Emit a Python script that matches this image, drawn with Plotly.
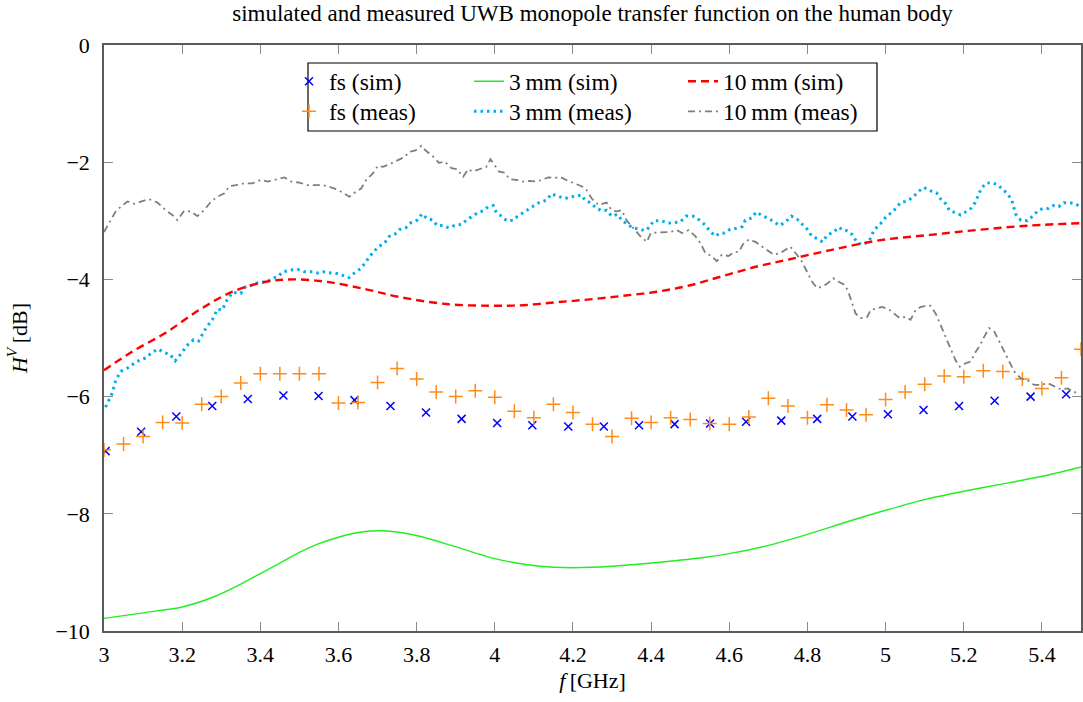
import plotly.graph_objects as go

# ---------------- data ----------------
fs_sim_f = [3.004, 3.095, 3.185, 3.277, 3.368, 3.459, 3.549, 3.641, 3.733, 3.824,
            3.915, 4.006, 4.096, 4.188, 4.279, 4.369, 4.460, 4.551, 4.643, 4.733,
            4.825, 4.915, 5.006, 5.097, 5.188, 5.279, 5.371, 5.462]
fs_sim_v = [-6.93, -6.60, -6.34, -6.16, -6.04, -5.98, -5.99, -6.06, -6.16, -6.27,
            -6.38, -6.45, -6.49, -6.51, -6.51, -6.49, -6.47, -6.46, -6.43, -6.41,
            -6.38, -6.34, -6.30, -6.23, -6.16, -6.07, -6.00, -5.96]

fs_meas_f = [3.00, 3.05, 3.10, 3.15, 3.20, 3.25, 3.30, 3.35, 3.40, 3.45,
             3.50, 3.55, 3.60, 3.65, 3.70, 3.75, 3.80, 3.85, 3.90, 3.95,
             4.00, 4.05, 4.10, 4.15, 4.20, 4.25, 4.30, 4.35, 4.40, 4.45,
             4.50, 4.55, 4.60, 4.65, 4.70, 4.75, 4.80, 4.85, 4.90, 4.95,
             5.00, 5.05, 5.10, 5.15, 5.20, 5.25, 5.30, 5.35, 5.40, 5.45, 5.50]
fs_meas_v = [-6.91, -6.81, -6.68, -6.44, -6.45, -6.13, -6.00, -5.77, -5.61, -5.61,
             -5.61, -5.61, -6.11, -6.10, -5.76, -5.52, -5.70, -5.92, -6.00, -5.90,
             -6.01, -6.25, -6.36, -6.13, -6.27, -6.47, -6.68, -6.37, -6.44, -6.36,
             -6.39, -6.46, -6.47, -6.35, -6.03, -6.16, -6.36, -6.14, -6.23, -6.31,
             -6.05, -5.92, -5.79, -5.65, -5.66, -5.56, -5.57, -5.70, -5.86, -5.68, -5.19]

mm3_sim_f = [3.0, 3.1, 3.2, 3.28, 3.35, 3.40, 3.45, 3.50, 3.55, 3.60, 3.65, 3.70,
             3.75, 3.80, 3.889, 4.0, 4.113, 4.2, 4.3, 4.4, 4.53, 4.60, 4.69, 4.80,
             4.90, 5.0, 5.107, 5.2, 5.3, 5.4, 5.5]
mm3_sim_v = [-9.785, -9.69, -9.59, -9.42, -9.20, -9.02, -8.84, -8.66, -8.51, -8.40,
             -8.32, -8.29, -8.31, -8.37, -8.54, -8.765, -8.895, -8.92, -8.895, -8.84,
             -8.75, -8.68, -8.555, -8.35, -8.14, -7.94, -7.745, -7.615, -7.49, -7.36,
             -7.20]

mm10_sim_f = [3.0, 3.073, 3.158, 3.244, 3.329, 3.415, 3.483, 3.568, 3.671, 3.756,
              3.876, 3.987, 4.073, 4.158, 4.244, 4.329, 4.415, 4.5, 4.585, 4.671,
              4.752, 4.859, 4.987, 5.115, 5.244, 5.372, 5.5]
mm10_sim_v = [-5.55, -5.23, -4.91, -4.52, -4.21, -4.04, -4.00, -4.04, -4.17, -4.30,
              -4.42, -4.45, -4.44, -4.39, -4.34, -4.28, -4.21, -4.10, -3.94, -3.78,
              -3.66, -3.50, -3.33, -3.24, -3.15, -3.08, -3.04]

mm3_meas_f = [3.004, 3.021, 3.03, 3.043, 3.064, 3.081, 3.107, 3.124, 3.139, 3.154,
              3.169, 3.182, 3.192, 3.214, 3.229, 3.242, 3.261, 3.277, 3.29, 3.303,
              3.312, 3.329, 3.35, 3.363, 3.38, 3.397, 3.415, 3.432, 3.446, 3.457,
              3.479, 3.496, 3.513, 3.534, 3.547, 3.56, 3.581, 3.596, 3.611, 3.627,
              3.641, 3.658, 3.669, 3.679, 3.688, 3.703, 3.718, 3.729, 3.744, 3.756,
              3.772, 3.786, 3.801, 3.814, 3.826, 3.842, 3.852, 3.867, 3.882, 3.897,
              3.916, 3.927, 3.943, 3.957, 3.970, 3.983, 3.996, 4.004, 4.017, 4.030,
              4.047, 4.06, 4.073, 4.088, 4.103, 4.115, 4.132, 4.145, 4.162, 4.179,
              4.197, 4.214, 4.222, 4.231, 4.244, 4.261, 4.274, 4.286, 4.299, 4.314,
              4.325, 4.337, 4.353, 4.37, 4.385, 4.397, 4.406, 4.427, 4.444, 4.46,
              4.474, 4.49, 4.507, 4.524, 4.538, 4.55, 4.564, 4.577, 4.587, 4.603,
              4.617, 4.633, 4.641, 4.658, 4.669, 4.684, 4.703, 4.717, 4.729, 4.744,
              4.759, 4.773, 4.786, 4.799, 4.81, 4.825, 4.839, 4.851, 4.866, 4.88,
              4.893, 4.902, 4.915, 4.926, 4.940, 4.957, 4.970, 4.987, 5.0, 5.013,
              5.026, 5.038, 5.056, 5.071, 5.084, 5.098, 5.115, 5.130, 5.141, 5.154,
              5.164, 5.179, 5.192, 5.207, 5.218, 5.229, 5.235, 5.244, 5.256, 5.271,
              5.286, 5.3, 5.312, 5.323, 5.329, 5.333, 5.346, 5.363, 5.378, 5.391,
              5.402, 5.416, 5.429, 5.443, 5.456, 5.47, 5.486, 5.5]
mm3_meas_v = [-6.18, -5.94, -5.72, -5.57, -5.50, -5.41, -5.34, -5.24, -5.19, -5.25,
              -5.28, -5.39, -5.31, -5.12, -5.03, -5.05, -4.83, -4.69, -4.51, -4.52,
              -4.38, -4.22, -4.24, -4.12, -4.10, -4.04, -4.05, -3.98, -3.95, -3.87,
              -3.84, -3.83, -3.87, -3.87, -3.89, -3.87, -3.89, -3.90, -3.93, -3.97,
              -3.89, -3.81, -3.71, -3.62, -3.54, -3.44, -3.38, -3.27, -3.23, -3.15,
              -3.12, -3.03, -2.99, -2.88, -2.96, -2.99, -3.08, -3.08, -3.12, -3.08,
              -3.06, -2.99, -2.92, -2.86, -2.83, -2.76, -2.74, -2.86, -2.92, -3.00,
              -2.99, -2.91, -2.86, -2.79, -2.73, -2.68, -2.65, -2.54, -2.58, -2.62,
              -2.59, -2.57, -2.56, -2.65, -2.69, -2.79, -2.83, -2.82, -2.92, -2.89,
              -2.99, -3.05, -3.12, -3.14, -3.17, -3.10, -3.00, -3.00, -3.04, -3.03,
              -3.02, -2.92, -2.92, -2.99, -3.07, -3.17, -3.26, -3.21, -3.21, -3.14,
              -3.13, -3.10, -2.99, -2.95, -2.85, -2.91, -2.97, -3.03, -3.08, -3.02,
              -2.92, -2.97, -3.06, -3.14, -3.25, -3.30, -3.36, -3.24, -3.20, -3.11,
              -3.17, -3.17, -3.24, -3.36, -3.41, -3.36, -3.16, -3.05, -2.94, -2.87,
              -2.79, -2.69, -2.66, -2.59, -2.50, -2.43, -2.49, -2.52, -2.63, -2.71,
              -2.83, -2.86, -2.90, -2.84, -2.79, -2.69, -2.59, -2.46, -2.36, -2.35,
              -2.38, -2.46, -2.54, -2.65, -2.77, -2.89, -2.99, -3.00, -2.91, -2.82,
              -2.79, -2.79, -2.74, -2.76, -2.69, -2.69, -2.71, -2.77]

mm10_meas_f = [3.0, 3.013, 3.03, 3.043, 3.06, 3.077, 3.094, 3.115, 3.137, 3.158,
               3.175, 3.188, 3.205, 3.222, 3.239, 3.256, 3.274, 3.29, 3.308, 3.321,
               3.338, 3.359, 3.38, 3.402, 3.419, 3.44, 3.462, 3.479, 3.50, 3.521,
               3.538, 3.56, 3.581, 3.598, 3.611, 3.628, 3.645, 3.658, 3.671, 3.688,
               3.701, 3.714, 3.735, 3.752, 3.769, 3.782, 3.797, 3.812, 3.823, 3.840,
               3.857, 3.872, 3.889, 3.903, 3.919, 3.932, 3.944, 3.96, 3.978, 3.989,
               3.997, 4.011, 4.026, 4.038, 4.055, 4.071, 4.088, 4.107, 4.124, 4.137,
               4.154, 4.167, 4.188, 4.205, 4.222, 4.235, 4.248, 4.265, 4.286, 4.299,
               4.312, 4.325, 4.337, 4.359, 4.372, 4.389, 4.399, 4.415, 4.431, 4.449,
               4.466, 4.479, 4.496, 4.513, 4.526, 4.538, 4.556, 4.568, 4.581, 4.598,
               4.611, 4.624, 4.637, 4.650, 4.667, 4.684, 4.701, 4.714, 4.731, 4.744,
               4.756, 4.773, 4.786, 4.799, 4.812, 4.825, 4.838, 4.851, 4.866, 4.880,
               4.897, 4.906, 4.915, 4.923, 4.936, 4.953, 4.962, 4.977, 4.991, 5.008,
               5.021, 5.036, 5.051, 5.064, 5.077, 5.090, 5.105, 5.115, 5.128, 5.141,
               5.154, 5.167, 5.179, 5.19, 5.205, 5.218, 5.231, 5.242, 5.252, 5.265,
               5.278, 5.291, 5.303, 5.316, 5.329, 5.346, 5.363, 5.380, 5.397, 5.415,
               5.432, 5.449, 5.466, 5.483, 5.496]
mm10_meas_v = [-3.19, -3.04, -2.84, -2.76, -2.67, -2.71, -2.68, -2.63, -2.69, -2.82,
               -2.90, -2.99, -2.83, -2.84, -2.92, -2.82, -2.67, -2.59, -2.53, -2.41,
               -2.39, -2.36, -2.36, -2.30, -2.33, -2.30, -2.26, -2.33, -2.35, -2.39,
               -2.39, -2.39, -2.43, -2.47, -2.52, -2.59, -2.50, -2.45, -2.30, -2.19,
               -2.06, -2.08, -2.02, -1.97, -1.91, -1.82, -1.80, -1.72, -1.80, -1.89,
               -2.01, -1.99, -2.10, -2.12, -2.25, -2.12, -2.16, -2.12, -2.08, -1.95,
               -2.02, -2.16, -2.18, -2.29, -2.30, -2.33, -2.32, -2.33, -2.29, -2.26,
               -2.27, -2.25, -2.32, -2.37, -2.41, -2.48, -2.62, -2.73, -2.69, -2.82,
               -2.84, -2.82, -2.99, -3.16, -3.26, -3.36, -3.21, -3.20, -3.19, -3.19,
               -3.16, -3.21, -3.16, -3.26, -3.38, -3.54, -3.61, -3.69, -3.58, -3.60,
               -3.54, -3.53, -3.38, -3.32, -3.36, -3.44, -3.53, -3.58, -3.55, -3.50,
               -3.44, -3.58, -3.70, -3.87, -4.04, -4.15, -4.12, -4.07, -3.98, -4.04,
               -4.10, -4.24, -4.41, -4.58, -4.66, -4.64, -4.52, -4.49, -4.47, -4.51,
               -4.58, -4.66, -4.64, -4.69, -4.52, -4.47, -4.45, -4.45, -4.58, -4.78,
               -5.01, -5.20, -5.38, -5.49, -5.43, -5.40, -5.23, -5.12, -4.98, -4.83,
               -4.89, -5.06, -5.23, -5.40, -5.57, -5.69, -5.72, -5.80, -5.80, -5.77,
               -5.83, -5.88, -5.86, -5.93, -5.89]

x_ticks = [3, 3.2, 3.4, 3.6, 3.8, 4, 4.2, 4.4, 4.6, 4.8, 5, 5.2, 5.4]
x_tick_text = ["3", "3.2", "3.4", "3.6", "3.8", "4", "4.2", "4.4", "4.6", "4.8", "5", "5.2", "5.4"]
y_ticks = [0, -2, -4, -6, -8, -10]
y_tick_text = ["0", "\u22122", "\u22124", "\u22126", "\u22128", "\u221210"]

# ---------------- figure ----------------
FONT = "Liberation Serif"
FS = 22
FS_LEG = 23.5
FS_TITLE = 23

fig = go.Figure()

fig.add_trace(go.Scatter(
    x=fs_sim_f, y=fs_sim_v, mode="markers", name="fs (sim)", legend="legend",
    marker=dict(symbol="x-thin", size=8, color="#0000ff",
                line=dict(color="#0000ff", width=1.5))))
fig.add_trace(go.Scatter(
    x=fs_meas_f, y=fs_meas_v, mode="markers", name="fs (meas)", legend="legend2",
    marker=dict(symbol="cross-thin", size=10, color="#ff8c1a",
                line=dict(color="#ff8c1a", width=1.5))))
fig.add_trace(go.Scatter(
    x=mm3_sim_f, y=mm3_sim_v, mode="lines", name="3\u2009mm (sim)", legend="legend3",
    line=dict(color="#22ee22", width=1.4, shape="spline", smoothing=0.8)))
fig.add_trace(go.Scatter(
    x=mm3_meas_f, y=mm3_meas_v, mode="lines", name="3\u2009mm (meas)", legend="legend4",
    line=dict(color="#00aeef", width=3, dash="2.5px,4px")))
fig.add_trace(go.Scatter(
    x=mm10_sim_f, y=mm10_sim_v, mode="lines", name="10\u2009mm (sim)", legend="legend5",
    line=dict(color="#ff0000", width=2.4, dash="8px,5px", shape="spline", smoothing=1.0)))
fig.add_trace(go.Scatter(
    x=mm10_meas_f, y=mm10_meas_v, mode="lines", name="10\u2009mm (meas)", legend="legend6",
    line=dict(color="#7f7f7f", width=1.8, dash="7px,4px,2px,4px")))

# plot area geometry (pixels)
L, R, T, B = 104, 2, 45, 71
W = 1083 - L - R
H = 702 - T - B


def px_x(p):
    return (p - L) / W


def px_y(p):
    return 1 - (p - T) / H


leg_common = dict(xanchor="left", yanchor="middle", bgcolor="rgba(0,0,0,0)",
                  borderwidth=0, font=dict(family=FONT, size=FS_LEG, color="black"),
                  itemclick=False)
col_text = [329, 509, 723]
row_y = [81.5, 111.5]
fig.update_layout(
    legend=dict(x=px_x(col_text[0] - 40), y=px_y(row_y[0]), **leg_common),
    legend2=dict(x=px_x(col_text[0] - 40), y=px_y(row_y[1]), **leg_common),
    legend3=dict(x=px_x(col_text[1] - 40), y=px_y(row_y[0]), **leg_common),
    legend4=dict(x=px_x(col_text[1] - 40), y=px_y(row_y[1]), **leg_common),
    legend5=dict(x=px_x(col_text[2] - 40), y=px_y(row_y[0]), **leg_common),
    legend6=dict(x=px_x(col_text[2] - 40), y=px_y(row_y[1]), **leg_common),
)

fig.add_shape(type="rect", xref="paper", yref="paper", layer="above",
              x0=px_x(308), x1=px_x(877), y0=px_y(131), y1=px_y(63),
              line=dict(color="black", width=1.2), fillcolor="white")

axis_common = dict(showgrid=False, zeroline=False, showline=True, mirror="ticks",
                   linecolor="#5a5a5a", linewidth=1.5, ticks="inside", ticklen=9,
                   tickcolor="#8a8a8a", tickwidth=1.2,
                   tickfont=dict(family=FONT, size=FS, color="black"))

fig.update_layout(
    width=1083, height=702,
    margin=dict(l=L, r=R, t=T, b=B, autoexpand=False),
    paper_bgcolor="white", plot_bgcolor="white",
    showlegend=True,
    font=dict(family=FONT, size=FS, color="black"),
    title=dict(text="simulated and measured UWB monopole transfer function on the human body",
               x=0.5 * (L + 1083 - R) / 1083, xanchor="center",
               y=1 - 13 / 702, yanchor="middle", yref="container",
               font=dict(family=FONT, size=FS_TITLE, color="black")),
    xaxis=dict(range=[3, 5.5], tickvals=x_ticks, ticktext=x_tick_text,
               ticklabelstandoff=3,
               title=dict(text="<i>f</i>\u2009[GHz]", standoff=6,
                          font=dict(family=FONT, size=FS)),
               **axis_common),
    yaxis=dict(range=[-10, 0], tickvals=y_ticks, ticktext=y_tick_text,
               ticklabelstandoff=8,
               title=dict(text="<i>H</i><sup><i>V</i></sup>\u2009[dB]", standoff=22,
                          font=dict(family=FONT, size=FS)),
               **axis_common),
)

fig.write_html("out.html")
